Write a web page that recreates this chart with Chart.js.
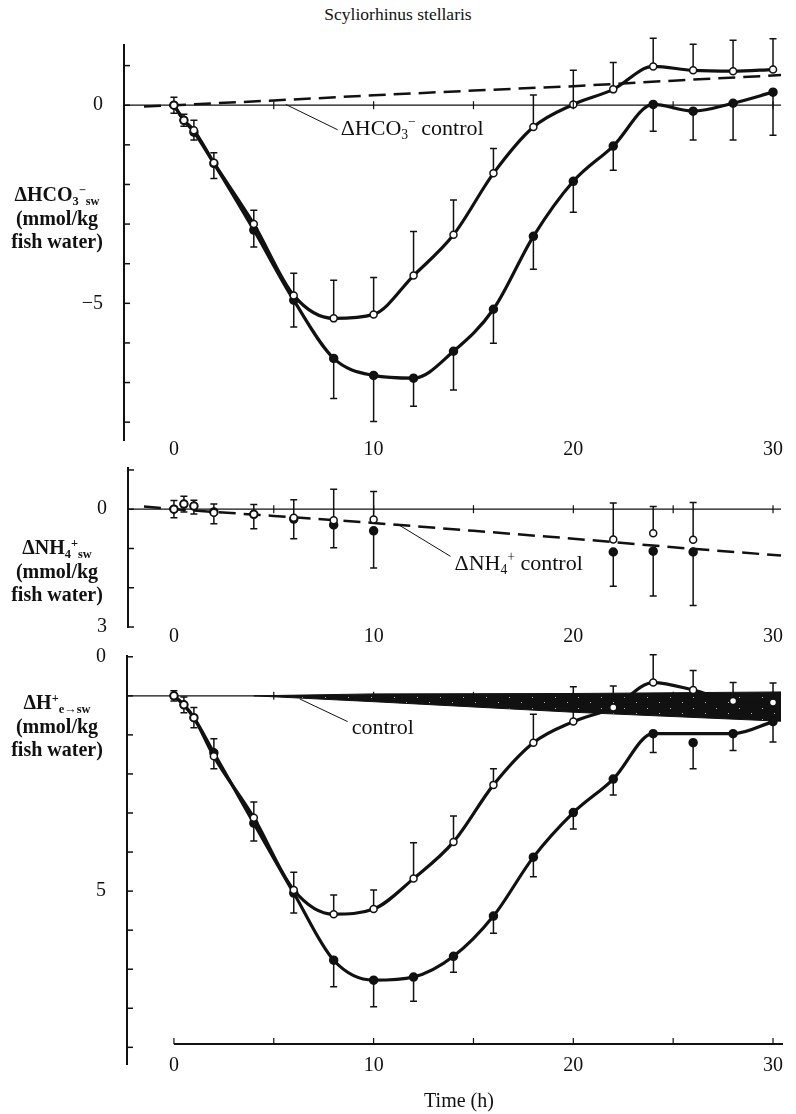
<!DOCTYPE html>
<html>
<head>
<meta charset="utf-8">
<title>Scyliorhinus stellaris</title>
<script src="https://cdn.jsdelivr.net/npm/chart.js@4.4.1/dist/chart.umd.min.js"></script>
<style>
  body { margin: 0; background: #fff; }
  #page { position: relative; width: 796px; height: 1114px; overflow: hidden;
          font-family: "Liberation Serif", "Times New Roman", serif; color: #111; }
  canvas { position: absolute; left: 0; }
  .txt { position: absolute; text-align: center; white-space: nowrap; }
  .ytitle { left: 0; width: 114px; font-weight: bold; font-size: 20px; line-height: 23.5px; }
  sub, sup { font-size: 0.62em; line-height: 0; }
  sub { vertical-align: -0.35em; }
  sup { vertical-align: 0.55em; }
</style>
</head>
<body>
<div id="page">
  <div class="txt" style="left:0; width:796px; top:4px; font-size:17.5px;">Scyliorhinus stellaris</div>

  <canvas id="hco3Chart" width="796" height="470" style="top:0"></canvas>
  <canvas id="nh4Chart" width="796" height="190" style="top:460px"></canvas>
  <canvas id="hChart" width="796" height="474" style="top:640px"></canvas>

  <div class="txt ytitle" style="top:183px">ΔHCO<sub>3</sub><sup>−</sup><sub>sw</sub><br>(mmol/kg<br>fish water)</div>
  <div class="txt ytitle" style="top:536px">ΔNH<sub>4</sub><sup>+</sup><sub>sw</sub><br>(mmol/kg<br>fish water)</div>
  <div class="txt ytitle" style="top:691px">ΔH<sup>+</sup><sub>e→sw</sub><br>(mmol/kg<br>fish water)</div>

  <div class="txt" style="left:379px; width:160px; top:1089px; font-size:20px;">Time (h)</div>
</div>

<script>
const INK = '#111';
const SERIF = '"Liberation Serif", "Times New Roman", serif';

// Sampling times (h)
const hours = [0, 0.5, 1, 2, 4, 6, 8, 10, 12, 14, 16, 18, 20, 22, 24, 26, 28, 30];
const nh4Hours = [0, 0.5, 1, 2, 4, 6, 8, 10, 22, 24, 26];
const controlHours = [-1.5, 0, 5, 10, 15, 20, 25, 30.4];
const bandHours = [4, 10, 20, 30.4];
const timeTicks = [0, 10, 20, 30];
const crossTicks = [5, 10, 15, 20, 25, 30];

// ΔHCO3- in sea water (mmol/kg fish water), means and one-sided SE
const hco3Open = [0, -0.38, -0.63, -1.45, -3.0, -4.8, -5.38, -5.28, -4.3, -3.27, -1.72, -0.55, 0.02, 0.4, 0.98, 0.88, 0.86, 0.9];
const hco3OpenErr = [0.2, 0.15, 0.25, 0.25, 0.35, 0.56, 0.96, 0.93, 1.11, 0.88, 0.63, 0.81, 0.86, 0.68, 0.71, 0.66, 0.78, 0.78];
const hco3Filled = [0, -0.38, -0.68, -1.47, -3.15, -4.92, -6.39, -6.82, -6.89, -6.21, -5.15, -3.31, -1.92, -1.03, 0.02, -0.15, 0.05, 0.33];
const hco3FilledErr = [0.2, 0.15, 0.2, 0.38, 0.43, 0.68, 1.01, 1.16, 0.71, 0.98, 0.86, 0.83, 0.78, 0.61, 0.68, 0.73, 0.93, 1.09];
const hco3Control = [-0.03, 0, 0.12, 0.25, 0.37, 0.48, 0.62, 0.76];

// ΔNH4+ in sea water
const nh4Open = [0, -0.13, -0.08, 0.09, 0.13, 0.22, 0.28, 0.26, 0.77, 0.61, 0.78];
const nh4OpenErr = [0.22, 0.2, 0.15, 0.22, 0.25, 0.46, 0.79, 0.71, 0.93, 0.68, 0.95];
const nh4Filled = [0, -0.13, -0.08, 0.07, 0.13, 0.25, 0.4, 0.55, 1.09, 1.07, 1.09];
const nh4FilledErr = [0.22, 0.2, 0.2, 0.3, 0.37, 0.5, 0.58, 0.95, 0.87, 1.14, 1.36];
const nh4Control = [-0.07, 0, 0.17, 0.35, 0.55, 0.75, 0.97, 1.18];

// ΔH+ transferred to sea water
const hOpen = [0, 0.23, 0.56, 1.55, 3.12, 4.97, 5.59, 5.46, 4.68, 3.74, 2.28, 1.2, 0.66, 0.3, -0.34, -0.15, 0.13, 0.17];
const hOpenErr = [0.13, 0.2, 0.26, 0.45, 0.4, 0.45, 0.49, 0.49, 0.92, 0.66, 0.41, 0.73, 0.89, 0.55, 0.71, 0.5, 0.47, 0.5];
const hFilled = [0, 0.23, 0.56, 1.46, 3.26, 5.05, 6.77, 7.28, 7.2, 6.67, 5.64, 4.13, 2.99, 2.13, 0.97, 1.2, 0.97, 0.66];
const hFilledErr = [0.13, 0.2, 0.26, 0.41, 0.46, 0.51, 0.68, 0.68, 0.62, 0.41, 0.44, 0.5, 0.42, 0.41, 0.48, 0.67, 0.43, 0.52];
const hCurveSkip = [26];
const hBandTop = [0, -0.05, -0.06, -0.1];
const hBandBottom = [0, 0.15, 0.42, 0.65];

// Printed tick labels
const hco3TickLabels = {'0': '0', '-5': '−5'};
const nh4TickLabels = {'0': '0', '3': '3'};
const hTickLabels = {'-1': '0', '5': '5'};

Chart.defaults.font.family = SERIF;
Chart.defaults.color = INK;

const pts = (xs, ys) => xs.map((x, i) => ({x: x, y: ys[i]}));

function markers(xs, ys, errs, open, sign) {
  return {
    data: pts(xs, ys), showLine: false, errors: errs, errSign: sign,
    pointRadius: open ? 3.5 : 4, pointBorderWidth: 1.5, pointHoverRadius: 0,
    pointBackgroundColor: open ? '#fff' : INK, pointBorderColor: INK
  };
}

function curve(xs, ys) {
  return { data: pts(xs, ys), borderColor: INK, borderWidth: 3.2, pointRadius: 0,
           cubicInterpolationMode: 'monotone', fill: false };
}

function dashed(xs, ys) {
  return { data: pts(xs, ys), borderColor: INK, borderWidth: 2.5, borderDash: [17, 8],
           pointRadius: 0, fill: false };
}

function zeroLine(x0, x1) {
  return { data: [{x: x0, y: 0}, {x: x1, y: 0}], borderColor: INK, borderWidth: 1.2, pointRadius: 0 };
}

function timeScale(min, height, pad) {
  return {
    type: 'linear', min: min, max: 30.6,
    grid: {display: false, drawTicks: false}, border: {display: false},
    ticks: {font: {size: 20}, color: INK, padding: pad, autoSkip: false, maxRotation: 0},
    afterBuildTicks: s => { s.ticks = timeTicks.map(v => ({value: v})); },
    afterFit: s => { s.height = height; s.paddingLeft = 0; s.paddingRight = 0; }
  };
}

function valueScale(min, max, reverse, labels, width) {
  return {
    type: 'linear', min: min, max: max, reverse: reverse,
    grid: {display: false, drawTicks: false}, border: {display: true, color: INK, width: 2},
    ticks: {font: {size: 20}, color: INK, padding: 21, callback: v => labels[String(v)] || ''},
    afterBuildTicks: s => {
      const t = [];
      for (let v = Math.ceil(min); v <= Math.floor(max); v++) t.push({value: v});
      s.ticks = t;
    },
    afterFit: s => { s.width = width; s.paddingTop = 0; s.paddingBottom = 0; }
  };
}

// vertical error bars, one-sided (open symbols upward, filled downward)
const errorBars = {
  id: 'errorBars',
  beforeDatasetsDraw(chart) {
    const {ctx, scales: {x, y}} = chart;
    ctx.save();
    ctx.strokeStyle = INK;
    ctx.lineWidth = 1.5;
    chart.data.datasets.forEach(ds => {
      if (!ds.errors) return;
      ds.data.forEach((p, i) => {
        const px = x.getPixelForValue(p.x);
        const py = y.getPixelForValue(p.y);
        const ey = y.getPixelForValue(p.y + ds.errSign * ds.errors[i]);
        ctx.beginPath();
        ctx.moveTo(px, py); ctx.lineTo(px, ey);
        ctx.moveTo(px - 3.5, ey); ctx.lineTo(px + 3.5, ey);
        ctx.stroke();
      });
    });
    ctx.restore();
  }
};

function drawRich(ctx, parts, x, y, size) {
  ctx.textBaseline = 'middle';
  ctx.textAlign = 'left';
  parts.forEach(p => {
    const small = p.sub || p.sup;
    const s = small ? size * 0.62 : size;
    ctx.font = s + 'px ' + SERIF;
    const dy = p.sub ? size * 0.28 : (p.sup ? -size * 0.32 : 0);
    ctx.fillText(p.t, x, y + dy);
    x += ctx.measureText(p.t).width;
  });
}

// y-axis inward ticks, crosses on the zero line, note with leader, optional time axis
function decor(cfg) {
  return {
    id: 'decor',
    afterDatasetsDraw(chart) {
      const {ctx, chartArea: a, scales: {x, y}} = chart;
      ctx.save();
      ctx.strokeStyle = INK;
      ctx.fillStyle = INK;

      // value axis may run on below the time axis
      const yEnd = cfg.axisEnd !== undefined ? cfg.axisEnd : y.max;
      if (cfg.axisEnd !== undefined) {
        ctx.lineWidth = 2;
        ctx.beginPath();
        ctx.moveTo(a.left, a.bottom); ctx.lineTo(a.left, y.getPixelForValue(yEnd));
        ctx.stroke();
      }

      ctx.lineWidth = 1.5;
      for (let v = Math.ceil(y.min); v <= Math.floor(yEnd); v++) {
        const py = y.getPixelForValue(v);
        ctx.beginPath(); ctx.moveTo(a.left, py); ctx.lineTo(a.left + 6, py); ctx.stroke();
      }

      ctx.lineWidth = 1.2;
      const y0 = y.getPixelForValue(0);
      crossTicks.forEach(t => {
        const px = x.getPixelForValue(t);
        ctx.beginPath(); ctx.moveTo(px, y0 - 4); ctx.lineTo(px, y0 + 4); ctx.stroke();
      });

      if (cfg.timeAxis) {
        const ay = a.bottom;
        ctx.lineWidth = 2;
        ctx.beginPath();
        ctx.moveTo(x.getPixelForValue(0), ay); ctx.lineTo(x.getPixelForValue(30.5), ay);
        ctx.stroke();
        ctx.lineWidth = 1.2;
        [0, 5, 10, 15, 20, 25, 30].forEach(t => {
          const px = x.getPixelForValue(t);
          ctx.beginPath(); ctx.moveTo(px, ay); ctx.lineTo(px, ay - 6); ctx.stroke();
        });
      }

      const n = cfg.note;
      ctx.lineWidth = 1;
      ctx.beginPath();
      ctx.moveTo(x.getPixelForValue(n.from[0]), y.getPixelForValue(n.from[1]));
      ctx.lineTo(x.getPixelForValue(n.to[0]), y.getPixelForValue(n.to[1]));
      ctx.stroke();
      drawRich(ctx, n.parts, x.getPixelForValue(n.at[0]), y.getPixelForValue(n.at[1]), 22);
      ctx.restore();
    }
  };
}

const baseOptions = (layoutPad, scales) => ({
  responsive: false,
  animation: false,
  layout: {padding: layoutPad},
  plugins: {legend: {display: false}, tooltip: {enabled: false}},
  events: [],
  scales: scales
});

// ΔHCO3- panel
new Chart(document.getElementById('hco3Chart'), {
  type: 'line',
  data: {
    datasets: [
      markers(hours, hco3Open, hco3OpenErr, true, 1),
      markers(hours, hco3Filled, hco3FilledErr, false, -1),
      curve(hours, hco3Open),
      curve(hours, hco3Filled),
      dashed(controlHours, hco3Control),
      zeroLine(-2.5, 30.4)
    ]
  },
  options: baseOptions({top: 45, left: 0, right: 11, bottom: 0}, {
    x: timeScale(-2.5, 30, -2),
    y: valueScale(-8.45, 1.52, false, hco3TickLabels, 124)
  }),
  plugins: [errorBars, decor({
    note: {from: [5.6, 0.02], to: [8.2, -0.62], at: [8.35, -0.6],
           parts: [{t: 'ΔHCO'}, {t: '3', sub: true}, {t: '−', sup: true}, {t: ' control'}]}
  })]
});

// ΔNH4+ panel (positive values downward)
new Chart(document.getElementById('nh4Chart'), {
  type: 'line',
  data: {
    datasets: [
      markers(nh4Hours, nh4Open, nh4OpenErr, true, -1),
      markers(nh4Hours, nh4Filled, nh4FilledErr, false, 1),
      dashed(controlHours, nh4Control),
      zeroLine(-2.3, 30.4)
    ]
  },
  options: baseOptions({top: 8, left: 0, right: 11, bottom: 0}, {
    x: timeScale(-2.3, 23, -2),
    y: valueScale(-1.05, 3.0, true, nh4TickLabels, 128)
  }),
  plugins: [errorBars, decor({
    note: {from: [11.2, 0.38], to: [13.85, 1.2], at: [14.05, 1.4],
           parts: [{t: 'ΔNH'}, {t: '4', sub: true}, {t: '+', sup: true}, {t: ' control'}]}
  })]
});

// ΔH+ panel (positive values downward), shaded control band
const hCanvas = document.getElementById('hChart');
const tile = document.createElement('canvas');
tile.width = 23; tile.height = 11;
const tg = tile.getContext('2d');
tg.fillStyle = INK; tg.fillRect(0, 0, 23, 11);
tg.fillStyle = '#bbb';
[[3, 2], [15, 7]].forEach(([px, py]) => tg.fillRect(px, py, 1, 1));
const bandPattern = hCanvas.getContext('2d').createPattern(tile, 'repeat');

const hCurveHours = hours.filter(h => !hCurveSkip.includes(h));
const hCurveFilled = hFilled.filter((v, i) => !hCurveSkip.includes(hours[i]));

new Chart(hCanvas, {
  type: 'line',
  data: {
    datasets: [
      markers(hours, hOpen, hOpenErr, true, -1),
      markers(hours, hFilled, hFilledErr, false, 1),
      curve(hours, hOpen),
      curve(hCurveHours, hCurveFilled),
      { data: pts(bandHours, hBandTop), borderColor: INK, borderWidth: 1, pointRadius: 0, fill: false },
      { data: pts(bandHours, hBandBottom), borderColor: INK, borderWidth: 1, pointRadius: 0,
        fill: '-1', backgroundColor: bandPattern },
      zeroLine(-2.35, 30.4)
    ]
  },
  options: baseOptions({top: 16, left: 0, right: 11, bottom: 0}, {
    x: timeScale(-2.35, 70, 10),
    y: valueScale(-1.02, 8.915, true, hTickLabels, 127)
  }),
  plugins: [errorBars, decor({
    timeAxis: true,
    axisEnd: 9.45,
    note: {from: [6.3, 0.08], to: [8.7, 0.66], at: [8.9, 0.82], parts: [{t: 'control'}]}
  })]
});
</script>
</body>
</html>
